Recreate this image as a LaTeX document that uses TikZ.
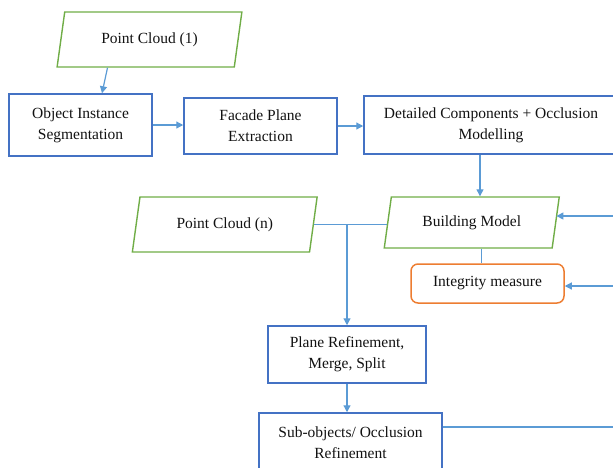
\documentclass[tikz,border=0pt]{standalone}
\usepackage{fontspec}
\setmainfont{Liberation Serif}
\usetikzlibrary{shapes.geometric,arrows.meta,calc}
\definecolor{boxblue}{HTML}{4472C4}
\definecolor{arrblue}{HTML}{5B9BD5}
\definecolor{pgreen}{HTML}{70AD47}
\definecolor{iorange}{HTML}{ED7D31}
\definecolor{txt}{HTML}{111111}
\tikzset{
  base/.style={text=txt,align=center,font=\fontsize{15.5}{21}\selectfont,inner sep=2pt},
  procbox/.style={base,draw=boxblue,line width=1.5pt,rectangle},
  databox/.style={base,draw=pgreen,line width=1.4pt,trapezium,trapezium left angle=76,trapezium right angle=104,trapezium stretches=true},
  measbox/.style={base,draw=iorange,line width=1.5pt,rectangle,rounded corners=7pt},
  arr/.style={draw=arrblue,line width=1.2pt,-{Triangle[width=7pt,length=7pt]}},
  ln/.style={draw=arrblue,line width=1.2pt}
}
\begin{document}
\begin{tikzpicture}[x=1pt,y=-1pt]
\useasboundingbox (0,0) rectangle (613,467);
\clip (0,0) rectangle (613,467);
\node[databox,minimum width=185pt,minimum height=55pt] (pc1) at (149.5,39.5) {Point Cloud (1)};
\node[procbox,minimum width=143pt,minimum height=62pt] (ois) at (80.5,125) {Object Instance\\Segmentation};
\node[procbox,minimum width=153pt,minimum height=56pt] (fpe) at (260.5,126) {Facade Plane\\Extraction};
\node[procbox,minimum width=254pt,minimum height=58pt] (dcom) at (491,125) {Detailed Components + Occlusion\\Modelling};
\node[databox,minimum width=175pt,minimum height=51pt] (bm) at (471.75,222.5) {Building Model};
\node[databox,minimum width=185pt,minimum height=55pt] (pcn) at (224.75,224.5) {Point Cloud (n)};
\node[measbox,minimum width=153pt,minimum height=39pt] (im) at (487.5,283.5) {Integrity measure};
\node[procbox,minimum width=158pt,minimum height=57pt] (pr) at (347,354.5) {Plane Refinement,\\Merge, Split};
\node[procbox,minimum width=183pt,minimum height=60pt] (so) at (350.5,443) {Sub-objects/ Occlusion\\Refinement};
\coordinate (r1) at (613,216);
\coordinate (r2) at (613,286);
\coordinate (r3) at (613,427);
\coordinate (j) at (pr.north |- pcn.east);
\draw[arr] ([xshift=-42pt]pc1.south) -- ([xshift=21.5pt]ois.north);
\draw[arr] (ois.east) -- (ois.east -| fpe.west);
\draw[arr] (fpe.east) -- (fpe.east -| dcom.west);
\draw[arr] ([xshift=-11pt]dcom.south) -- ([xshift=-11pt]dcom.south |- bm.north);
\draw[ln] (pcn.east) -- (pcn.east -| bm.west);
\draw[arr] (j) -- (pr.north);
\draw[ln] ([xshift=10pt]bm.south) -- ([xshift=10pt]bm.south |- im.north);
\draw[arr] (r1) -- (r1 -| bm.east);
\draw[arr] (r2) -- (im.east |- r2);
\draw[arr] (pr.south) -- (pr.south |- so.north);
\draw[ln] (so.east |- r3) -- (r3);
\end{tikzpicture}
\end{document}
